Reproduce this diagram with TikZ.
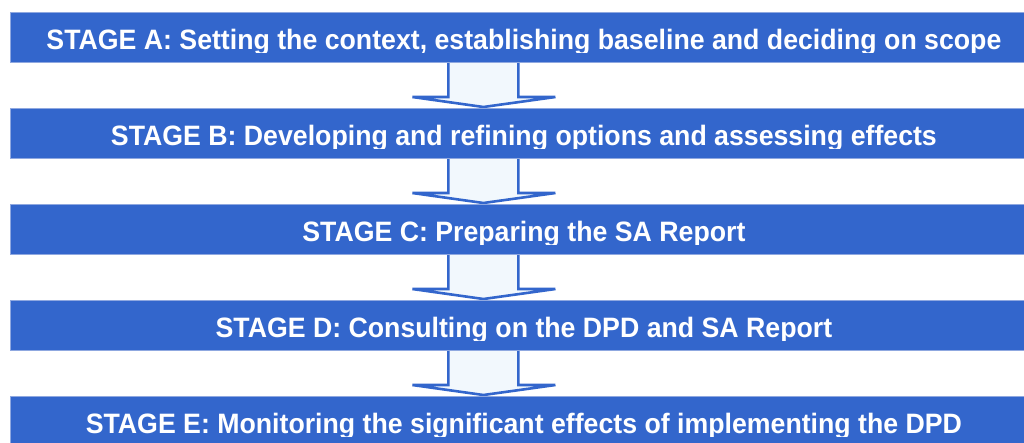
\documentclass[tikz,border=0pt]{standalone}
\usepackage{fontspec}
\setmainfont{Liberation Sans}
\usetikzlibrary{calc}
\definecolor{stageblue}{HTML}{3366CC}
\definecolor{stageedge}{HTML}{8FA8E0}
\definecolor{arrowfill}{HTML}{F2F8FD}
\tikzset{
  stagebox/.style={rectangle, fill=stageblue, draw=stageedge, line width=0.8pt,
    minimum width=1027pt, minimum height=50pt, inner sep=0pt, anchor=north west},
  stagetext/.style={anchor=base, text=white, inner sep=0pt,
    font=\bfseries\fontsize{26.7}{30}\selectfont},
  blockarrow/.style={draw=stageblue, fill=arrowfill, line width=2.6pt, line join=miter}
}
\begin{document}
\begin{tikzpicture}[x=1pt,y=-1pt]
\clip (0,0) rectangle (1024,442);
\fill[white] (0,0) rectangle (1024,442);
% boxes (placed first so that arrows can refer to them)
\path (10,12) node[stagebox] (boxA) {};
\path (10,108) node[stagebox] (boxB) {};
\path (10,204) node[stagebox] (boxC) {};
\path (10,300) node[stagebox] (boxD) {};
\path (10,396) node[stagebox] (boxE) {};
% arrows
\foreach \u/\v in {A/B,B/C,C/D,D/E}{
  \draw[blockarrow]
    ($(box\u.south)+(-75.5,-1)$) -- ($(box\v.north)+(-75.5,-11)$)
    -- ($(box\v.north)+(-111.5,-11)$) -- ($(box\v.north)+(-40.5,-1)$)
    -- ($(box\v.north)+(31.5,-11)$) -- ($(box\v.north)+(-5.5,-11)$)
    -- ($(box\u.south)+(-5.5,-1)$);
}
% boxes redrawn over arrow shafts
\foreach \b in {A,B,C,D,E}{
  \fill[stageblue] (box\b.north west) rectangle (box\b.south east);
  \draw[stageedge, line width=0.8pt] (box\b.north west) -- (box\b.north east);
  \draw[stageedge, line width=0.8pt] (box\b.south west) -- (box\b.south east);
  \draw[stageedge, line width=0.8pt] (box\b.north west) -- (box\b.south west);
}
% texts, clipped just below the baseline
\begin{scope}
\clip (boxA.north west) rectangle ($(boxA.south east)+(0,-10.5)$);
\node[stagetext] (txtA) at ($(boxA.north)+(0,37.5)$) {\scalebox{1}[1.05]{STAGE A: Setting the context, establishing baseline and deciding on scope}};
\end{scope}
\begin{scope}
\clip (boxB.north west) rectangle ($(boxB.south east)+(0,-10.5)$);
\node[stagetext] (txtB) at ($(boxB.north)+(0,37.5)$) {\scalebox{1}[1.05]{STAGE B: Developing and refining options and assessing effects}};
\end{scope}
\begin{scope}
\clip (boxC.north west) rectangle ($(boxC.south east)+(0,-10.5)$);
\node[stagetext] (txtC) at ($(boxC.north)+(0,37.5)$) {\scalebox{1}[1.05]{STAGE C: Preparing the SA Report}};
\end{scope}
\begin{scope}
\clip (boxD.north west) rectangle ($(boxD.south east)+(0,-10.5)$);
\node[stagetext] (txtD) at ($(boxD.north)+(0,37.5)$) {\scalebox{1}[1.05]{STAGE D: Consulting on the DPD and SA Report}};
\end{scope}
\begin{scope}
\clip (boxE.north west) rectangle ($(boxE.south east)+(0,-10.5)$);
\node[stagetext] (txtE) at ($(boxE.north)+(0,37.5)$) {\scalebox{1}[1.05]{STAGE E: Monitoring the significant effects of implementing the DPD}};
\end{scope}
\end{tikzpicture}
\end{document}
